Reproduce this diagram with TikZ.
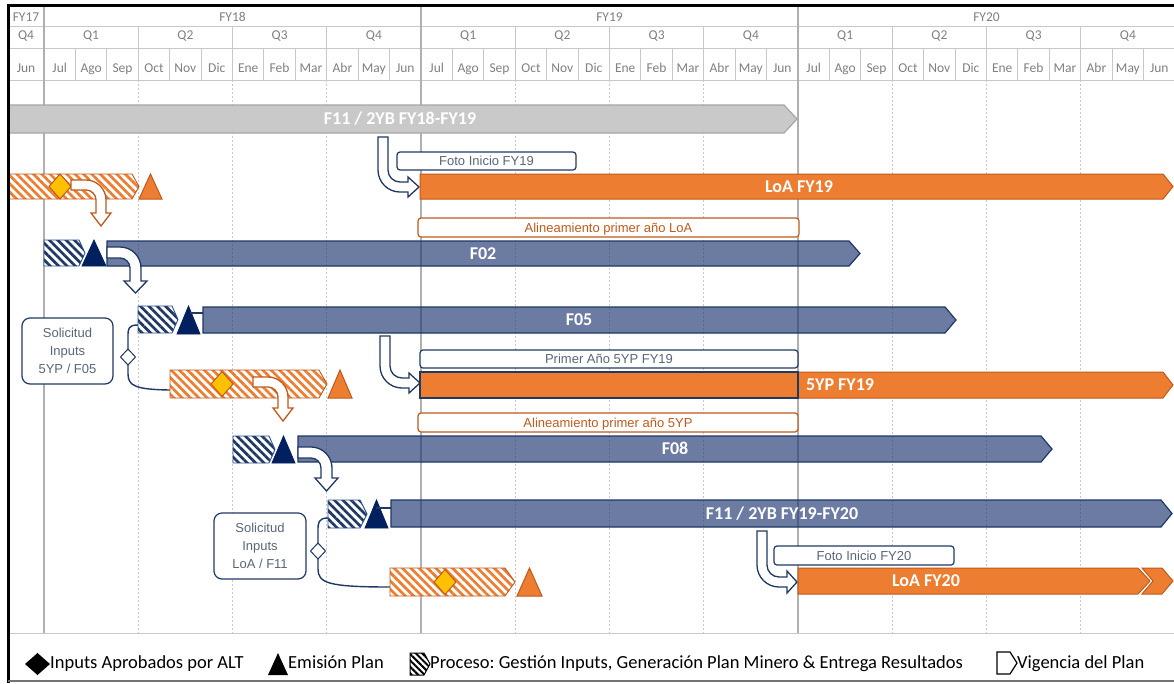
\documentclass[tikz,border=0pt]{standalone}
\usepackage{fontspec}
\setmainfont{Carlito}
\newfontfamily\arialf{Liberation Sans}
\usetikzlibrary{patterns.meta}
\frenchspacing

\definecolor{orF}{HTML}{ED7D31}
\definecolor{orD}{HTML}{C05A1C}
\definecolor{navy}{HTML}{1F3864}
\definecolor{navyT}{HTML}{002060}
\definecolor{barB}{HTML}{1D3571}
\definecolor{hatchB}{HTML}{2F4F8F}
\definecolor{grayF}{HTML}{C9C9C9}
\definecolor{grayD}{HTML}{A6A6A6}
\definecolor{gold}{HTML}{FFC000}
\definecolor{boxT}{HTML}{596678}
\definecolor{hdrT}{HTML}{808080}
\definecolor{gridL}{HTML}{C8C8C8}
\definecolor{gridD}{HTML}{B0B0B0}

% pentagon bar: style, x-left, x-right, y-top, y-bottom, point depth
\newcommand{\homeplate}[6]{\path[#1] (#2,#4) -- ({#3-#6},#4) -- (#3,{(#4+#5)/2}) -- ({#3-#6},#5) -- (#2,#5) -- cycle;}
% triangle: style, x-left, x-right, apex y, base y
\newcommand{\tri}[5]{\path[#1] (#2,#5) -- (#3,#5) -- ({(#2+#3)/2},#4) -- cycle;}
% diamond: style, cx, cy, half width, half height
\newcommand{\dia}[5]{\path[#1] ({#2-#4},#3) -- (#2,{#3-#5}) -- ({#2+#4},#3) -- (#2,{#3+#5}) -- cycle;}
% block arrow going right then down:
% style, x0, y0 (band top), t, xl (shaft left), R, head base y, head overhang, tip y
\newcommand{\rdarrow}[9]{\path[#1] (#2,#3) -- ({#5+#4-#6},#3)
  .. controls ({#5+#4-#6+0.5523*#6},#3) and ({#5+#4},{#3+#6-0.5523*#6}) .. ({#5+#4},{#3+#6})
  -- ({#5+#4},#7) -- ({#5+#4+#8},#7) -- ({#5+#4/2},#9) -- ({#5-#8},#7) -- (#5,#7) -- (#5,{#3+#6})
  .. controls (#5,{#3+#6-0.5523*(#6-#4)}) and ({#5+#4-#6+0.5523*(#6-#4)},{#3+#4}) .. ({#5+#4-#6},{#3+#4})
  -- (#2,{#3+#4}) -- cycle;}
% block arrow going down then right:
% style, xl (shaft left), y0 (top), t, yh (band top), R, head base x, head overhang, tip x
\newcommand{\drarrow}[9]{\path[#1] (#2,#3) -- ({#2+#4},#3) -- ({#2+#4},{#5+#4-#6})
  .. controls ({#2+#4},{#5+#4-#6+0.5523*(#6-#4)}) and ({#2+#6-0.5523*(#6-#4)},#5) .. ({#2+#6},#5)
  -- (#7,#5) -- (#7,{#5-#8}) -- (#9,{#5+#4/2}) -- (#7,{#5+#4+#8}) -- (#7,{#5+#4}) -- ({#2+#6},{#5+#4})
  .. controls ({#2+#6-0.5523*#6},{#5+#4}) and (#2,{#5+#4-#6+0.5523*#6}) .. (#2,{#5+#4-#6})
  -- cycle;}

\begin{document}
\begin{tikzpicture}[x=1pt,y=-1pt,
  hdr/.style={font=\fontsize{13.5}{15}\selectfont, text=hdrT, inner sep=0, text height=8.5, text depth=0},
  hl/.style={draw=gridL, line width=0.9},
  fyl/.style={draw=gridD, line width=1.2},
  ql/.style={draw=gridL, line width=0.9, dash pattern=on 2pt off 2pt},
  barlbl/.style={font=\fontsize{18}{20}\selectfont\bfseries, text=white, inner sep=0, text height=11.4, text depth=0},
  tbox/.style={draw=navy, line width=1.2, rounded corners=3, fill=white, text=boxT,
    font=\arialf\fontsize{13}{15}\selectfont, inner sep=0, text height=9.3, text depth=0},
  obox/.style={tbox, draw=orD, text=orD},
  sbox/.style={draw=navy, line width=1.2, rounded corners=8, fill=white, text=boxT, align=center,
    font=\arialf\fontsize{13}{18}\selectfont, inner sep=0},
  legend/.style={font=\fontsize{18.5}{22}\selectfont, anchor=west, inner sep=0, text height=11.7, text depth=0},
  graybar/.style={fill=grayF, draw=grayD, line width=1.2},
  orbar/.style={fill=orF, draw=orD, line width=1},
  bluebar/.style={fill=barB, fill opacity=0.65, draw=navy, line width=1.2},
  ohatch/.style={preaction={fill=white}, pattern={Lines[angle=-45,distance=5.9pt,line width=2.7pt]},
    pattern color=orF, draw=orD, line width=0.9},
  bhatch/.style={preaction={fill=white}, pattern={Lines[angle=-45,distance=5.9pt,line width=2.7pt]},
    pattern color=navy, draw=hatchB, line width=0.9},
  lhatch/.style={preaction={fill=white}, pattern={Lines[angle=-45,distance=4.5pt,line width=2pt]},
    pattern color=black, draw=black, line width=1},
  golddia/.style={fill=gold, draw=orD, line width=1},
  ortri/.style={fill=orF, draw=orD, line width=1},
  ntri/.style={fill=navyT, draw=navyT, line width=0.8},
  wdia/.style={fill=white, draw=navy, line width=1},
  obent/.style={draw=orD, fill=white, line width=1.3},
  bbent/.style={draw=navy, fill=white, line width=1.3},
  link/.style={draw=navy, line width=1.4}
]
\useasboundingbox (0,0) rectangle (1174,683);
\fill[white] (0,0) rectangle (1174,683);

% ---------- header grid ----------
\draw[hl] (8,26) -- (1174,26) (8,48) -- (1174,48) (8,80) -- (1174,80);
\foreach \i in {1,...,35} {\draw[hl] ({44+31.4167*\i},48) -- ({44+31.4167*\i},80);}
\foreach \i in {3,6,9,15,18,21,27,30,33} {
  \draw[hl] ({44+31.4167*\i},26) -- ({44+31.4167*\i},80);
  \draw[ql] ({44+31.4167*\i},80) -- ({44+31.4167*\i},633);
}
\draw[fyl] (44,5) -- (44,633) (421,5) -- (421,633) (798,5) -- (798,633);
\draw[hl] (8,633) -- (1174,633);

\node[hdr] (fy17) at (26,17) {FY17};
\node[hdr] (fy18) at (232.5,17) {FY18};
\node[hdr] (fy19) at (609.5,17) {FY19};
\node[hdr] (fy20) at (986.5,17) {FY20};
\node[hdr] (q17) at (26,35) {Q4};
\foreach \q [count=\i from 0] in {Q1,Q2,Q3,Q4,Q1,Q2,Q3,Q4,Q1,Q2,Q3,Q4}
  {\node[hdr] (q\i) at ({44+94.25*(\i+0.5)},35) {\q};}
\node[hdr] (m17) at (26,68) {Jun};
\foreach \m [count=\i from 0] in {Jul,Ago,Sep,Oct,Nov,Dic,Ene,Feb,Mar,Abr,May,Jun,
    Jul,Ago,Sep,Oct,Nov,Dic,Ene,Feb,Mar,Abr,May,Jun,Jul,Ago,Sep,Oct,Nov,Dic,Ene,Feb,Mar,Abr,May,Jun}
  {\node[hdr] (m\i) at ({44+31.4167*(\i+0.5)},68) {\m};}

% ---------- F11 / 2YB FY18-FY19 ----------
\homeplate{graybar}{9}{797}{105}{133}{13}
\node[barlbl] (f11a) at (400,119) {F11 / 2YB FY18-FY19};
\drarrow{bbent}{378}{137}{10}{182}{22}{408}{5}{419}
\node[tbox, minimum width=179, minimum height=18] (foto19) at (486.5,161) {Foto Inicio FY19};

% ---------- LoA FY19 ----------
\homeplate{orbar}{420}{1173}{174}{199}{10}
\node[barlbl] (loa19) at (799,186.5) {LoA FY19};
\homeplate{ohatch}{9}{139}{174}{199}{7}
\dia{golddia}{60}{186.5}{11}{12.5}
\tri{ortri}{139}{162}{174}{199}
\rdarrow{obent}{71}{180}{10}{96}{20}{213}{5}{226}
\node[obox, minimum width=381, minimum height=19] (alloa) at (608.5,227.5) {Alineamiento primer año LoA};

% ---------- F02 ----------
\homeplate{bhatch}{44}{85}{240}{266}{6}
\tri{ntri}{82}{106}{240}{266}
\homeplate{bluebar}{107}{860}{241}{266}{11}
\node[barlbl] (f02) at (483,253.5) {F02};
\rdarrow{bbent}{107}{247}{11}{130}{21}{281}{6}{293}

% ---------- F05 ----------
\homeplate{bhatch}{138}{178}{306}{333}{6}
\tri{ntri}{177}{200}{306}{334}
\draw[link, line width=1.1] (190,313) -- (203,313);
\homeplate{bluebar}{203}{956}{307}{333}{11}
\node[barlbl] (f05) at (579,320) {F05};

\node[sbox, minimum width=91, minimum height=66] (sol1) at (67.5,351) {Solicitud\\Inputs\\5YP / F05};
\coordinate (s1a) at (138,325);
\coordinate (s1t) at (128,349);
\coordinate (s1b) at (128,365);
\coordinate (s1c) at (170,390);
\draw[link] (s1a) .. controls (128,325) and (128,329) .. (128,337) -- (s1t);
\draw[link] (s1b) -- (128,374) .. controls (128,386) and (136,389.5) .. (s1c);
\dia{wdia}{128}{357}{7.5}{8}

% ---------- 5YP FY19 ----------
\drarrow{bbent}{380}{336}{10}{378}{22}{409}{5}{420}
\node[tbox, minimum width=378, minimum height=18] (pa5yp) at (609,359) {Primer Año 5YP FY19};
\homeplate{orbar}{420}{1173}{372}{398}{10}
\draw[navy, line width=1.3] (420,372) rectangle (798,398);
\node[barlbl] (yp19) at (840,385) {5YP FY19};
\homeplate{ohatch}{170}{327}{370}{398}{8}
\dia{golddia}{222}{384}{11}{12.5}
\tri{ortri}{328}{352}{370}{398}
\rdarrow{obent}{253}{377}{10}{278}{20}{408}{5}{421}
\node[obox, minimum width=380, minimum height=19] (al5yp) at (608,422.5) {Alineamiento primer año 5YP};

% ---------- F08 ----------
\homeplate{bhatch}{233}{275}{436}{463}{6}
\tri{ntri}{272}{295}{436}{463}
\homeplate{bluebar}{298}{1052}{436}{462}{11}
\node[barlbl] (f08) at (675,449) {F08};
\rdarrow{bbent}{298}{447}{11}{321}{21}{478}{6}{491}

% ---------- F11 / 2YB FY19-FY20 ----------
\homeplate{bhatch}{328}{367}{500}{528}{7}
\tri{ntri}{365}{388}{500}{528}
\draw[link, line width=1.1] (376,508) -- (391,508);
\homeplate{bluebar}{391}{1172}{500}{527}{11}
\node[barlbl] (f11b) at (782,513.5) {F11 / 2YB FY19-FY20};

\node[sbox, minimum width=92, minimum height=66] (sol2) at (260,546) {Solicitud\\Inputs\\LoA / F11};
\coordinate (s2a) at (328,518);
\coordinate (s2t) at (318,543);
\coordinate (s2b) at (318,559);
\coordinate (s2c) at (390,587);
\draw[link] (s2a) .. controls (318,518) and (318,523) .. (318,531) -- (s2t);
\draw[link] (s2b) -- (318,569) .. controls (318,583) and (328,587) .. (s2c);
\dia{wdia}{318}{551}{7.5}{8}

% ---------- LoA FY20 ----------
\drarrow{bbent}{757}{531}{10}{577}{22}{787}{6}{797}
\node[tbox, minimum width=180, minimum height=19] (foto20) at (864,555.5) {Foto Inicio FY20};
\homeplate{orbar}{798}{1150}{568}{594}{12}
\path[orbar] (1142,568) -- (1162,568) -- (1173,581) -- (1162,594) -- (1142,594) -- (1153,581) -- cycle;
\node[barlbl] (loa20) at (926,581) {LoA FY20};
\homeplate{ohatch}{390}{515}{568}{596}{10}
\dia{golddia}{445}{582}{11}{12.5}
\tri{ortri}{517}{542}{568}{596}

% ---------- legend ----------
\dia{fill=black}{37.5}{664}{12.5}{11}
\node[legend] (lg1) at (50,663) {Inputs Aprobados por ALT};
\tri{fill=black}{268}{288}{653}{675}
\node[legend] (lg2) at (288,663) {Emisión Plan};
\homeplate{lhatch}{410}{430}{653}{675}{6}
\node[legend] (lg3) at (430,663) {Proceso: Gestión Inputs, Generación Plan Minero \& Entrega Resultados};
\homeplate{draw=black, line width=1.2, fill=white}{997}{1017}{652}{674}{7}
\node[legend] (lg4) at (1017,663) {Vigencia del Plan};

% ---------- frame ----------
\draw[line width=3] (8,5.5) -- (1174,5.5);
\draw[line width=3] (8,4) -- (8,683);
\draw[draw=black!55, line width=2] (8,681) -- (1174,681);
\end{tikzpicture}
\end{document}
